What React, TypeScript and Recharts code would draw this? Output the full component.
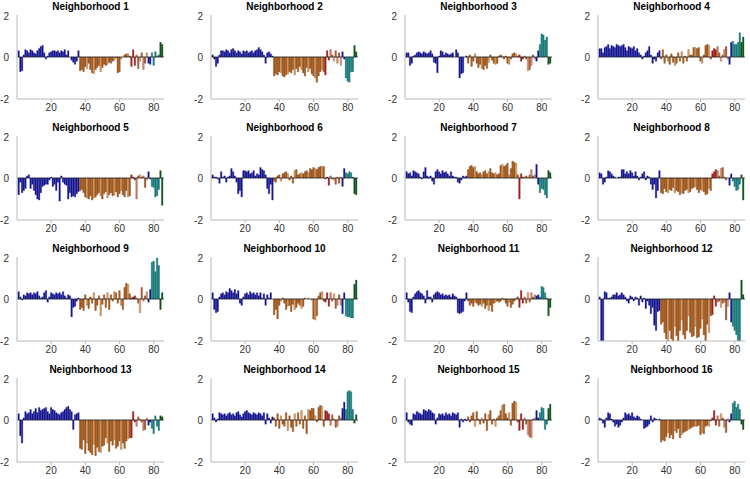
import React from "react";
import { BarChart, Bar, XAxis, YAxis, Cell, ReferenceLine } from "recharts";

// bar index 1..85 per neighborhood
// groups: 1-36 navy, 37-66 orange, 67-69 red, 70-76 mixed, 77-78 navy, 79-83 teal, 84-85 green
const n1 = [
  0.3, -0.7, -0.65, 0.1, 0.35, 0.3, 0.2, 0.35, 0.3, 0.2, 0.15, 0.3,
  0.4, 0.5, 0.55, 0.2, -0.1, 0.05, 0.2, 0.25, 0.3, 0.3, 0.25, 0.3,
  0.2, 0.3, 0.25, 0.35, 0.1, 0.3, 0.0, -0.15, -0.25, -0.35, -0.2, 0.3,
  -0.65, -0.6, -0.7, -0.45, -0.55, -0.3, -0.6, -0.75, -0.8, -0.6,
  -0.5, -0.4, -0.7, -0.5, -0.35, -0.4, -0.35, -0.25, -0.3, -0.2,
  -0.15, -0.05, -0.75, -0.7, -0.1, 0.0, 0.1, 0.15, 0.15, 0.05,
  -0.45, 0.35, -0.4, 0.1, -0.55, -0.2, 0.2, -0.6, -0.3, 0.2, -0.3, -0.35, 0.2, -0.4, 0.25, 0.05, 0.1, 0.7, 0.6,
];
const n2 = [
  0.1, -0.1, -0.45, -0.3, 0.1, 0.3, 0.3, 0.25, 0.35, 0.3, 0.2, 0.35,
  0.4, 0.3, 0.2, 0.3, 0.25, 0.15, 0.3, 0.25, 0.3, 0.2, 0.25, 0.3,
  0.2, 0.3, 0.35, 0.45, 0.35, 0.25, 0.1, -0.3, 0.2, 0.25, 0.15, 0.05,
  -0.9, -0.8, -0.85, -0.7, -0.75, -0.9, -0.95, -0.85, -0.8, -0.7,
  -0.75, -0.6, -0.85, -0.55, -0.7, -0.45, -0.6, -0.75, -0.9, -0.5,
  -0.7, -0.55, -0.8, -0.9, -1.0, -1.2, -0.9, -0.7, -0.6, -0.7,
  -0.85, 0.3, -0.15, 0.35, 0.1, -0.2, 0.3, -0.3, 0.2, -0.4, 0.25, -0.1, -1.0, -1.15, -1.2, -0.7, -0.7, 0.55, 0.25,
];
const n3 = [
  0.2, 0.2, -0.4, -0.3, 0.05, 0.1, 0.2, 0.25, 0.2, 0.15, 0.25, 0.2,
  0.15, 0.2, 0.3, 0.15, -0.25, -0.3, -0.75, 0.05, 0.3, 0.25, 0.1, 0.2,
  0.15, 0.1, 0.15, 0.2, 0.0, 0.35, 0.2, -1.0, -0.8, -0.75, 0.0, 0.05,
  -0.3, 0.1, -0.45, -0.2, 0.15, -0.3, -0.5, -0.35, -0.55, -0.6,
  -0.4, -0.55, -0.25, 0.1, -0.15, -0.3, -0.35, -0.3, 0.05, 0.1,
  0.05, -0.1, 0.05, -0.3, -0.35, -0.1, 0.15, 0.2, 0.15, 0.05,
  0.1, -0.2, -0.1, 0.05, -0.1, -0.65, -0.6, -0.4, 0.1, -0.1, -0.2, 0.3, 0.6, 1.1, 1.05, 0.8, 0.95, -0.35, -0.3,
];
const n4 = [
  0.4, 0.4, 0.2, 0.45, 0.5, 0.6, 0.4, 0.55, 0.5, 0.45, 0.6, 0.55,
  0.5, 0.55, 0.6, 0.45, 0.3, 0.5, 0.45, 0.4, 0.5, 0.3, 0.4, 0.2,
  0.1, -0.1, 0.05, 0.2, 0.3, 0.5, 0.1, -0.3, -0.1, -0.2, 0.2, 0.3,
  -0.1, 0.35, -0.3, 0.1, -0.2, -0.35, 0.15, -0.25, -0.4, -0.3,
  0.2, -0.2, 0.25, -0.3, 0.05, -0.2, 0.35, 0.1, 0.1, 0.45,
  0.45, 0.4, 0.45, -0.2, -0.3, 0.1, 0.55, 0.6, 0.55, -0.1,
  0.3, 0.4, 0.35, 0.5, 0.2, -0.2, 0.1, 0.35, 0.5, -0.1, -0.35, 0.7, 0.75, 0.6, 0.6, 0.7, 1.15, 0.7, 0.95,
];
const n5 = [
  -0.8, -0.2, -0.7, -0.6, -0.5, 0.1, 0.15, -0.5, -0.3, -0.6, -0.8, -1.0,
  -1.05, -0.7, -0.4, -0.35, -0.3, -0.3, -0.1, 0.05, -0.4, -0.3, -0.6, -0.2,
  -1.1, 0.1, -0.2, -0.3, -0.35, -1.0, -0.7, -0.9, -0.85, -0.9, -0.75, -0.65,
  -0.6, -0.55, -0.7, -0.9, -0.95, -1.0, -0.85, -1.05, -0.95, -0.9,
  -0.8, -0.7, -0.85, -1.0, -0.75, -0.65, -0.95, -0.8, -0.7, -0.85,
  -0.8, -0.65, -0.9, -0.75, -0.6, -0.8, -0.9, -0.6, -0.9, -0.85,
  0.15, 0.05, -0.1, -1.0, 0.1, 0.15, 0.05, 0.1, -0.45, -0.1, 0.3, -0.05, -0.4, -0.45, -0.9, -0.85, -0.55, 0.35, -1.3,
];
const n6 = [
  0.15, 0.05, 0.05, -0.05, -0.25, 0.3, 0.05, 0.1, -0.2, 0.05, 0.1, 0.45,
  0.3, 0.1, -0.2, -0.75, -0.6, -0.9, 0.35, 0.35, 0.3, 0.35, 0.2, 0.25,
  0.35, 0.1, 0.2, 0.15, 0.5, 0.4, 0.35, 0.15, -0.5, -0.75, -0.3, -1.05,
  -0.15, -0.2, 0.1, 0.15, -0.15, 0.2, 0.25, 0.3, 0.2, -0.1,
  0.1, -0.25, 0.35, 0.4, 0.15, 0.2, 0.25, 0.2, 0.3, 0.35,
  0.25, 0.45, 0.4, 0.5, 0.45, 0.4, 0.5, 0.55, 0.55, 0.55,
  -0.05, 0.05, -0.35, 0.1, -0.05, -0.1, -0.3, 0.05, -0.25, 0.05, -0.4, 0.45, 0.25, 0.2, 0.3, 0.25, 0.05, -0.75, -0.8,
];
const n7 = [
  0.3, 0.2, 0.25, 0.1, 0.35, 0.3, 0.25, 0.2, 0.05, -0.05, 0.3, 0.5,
  0.1, 0.05, 0.1, -0.15, -0.3, 0.3, 0.4, 0.3, 0.2, 0.35, 0.25, 0.3,
  0.2, 0.1, 0.3, 0.1, 0.05, 0.05, -0.2, -0.25, -0.1, 0.1, 0.05, 0.1,
  0.4, 0.55, 0.6, 0.5, 0.55, 0.3, 0.2, 0.25, 0.15, 0.3,
  0.35, 0.2, 0.3, 0.45, 0.25, 0.2, 0.25, 0.15, 0.2, 0.6,
  0.65, 0.55, 0.6, 0.7, 0.15, 0.45, 0.8, 0.75, 0.7, 0.15,
  -1.0, 0.2, 0.05, 0.05, 0.1, 0.05, 0.15, 0.4, 0.1, 0.15, 0.65, -0.3, -0.7, -0.5, -0.55, -0.8, -0.95, 0.35, 0.25,
];
const n8 = [
  0.25, 0.2, -0.3, -0.2, 0.05, 0.35, 0.3, 0.2, 0.1, 0.05, 0.0, 0.05,
  0.05, 0.4, 0.4, 0.2, 0.3, 0.2, 0.35, 0.25, 0.1, 0.3, 0.1, -0.1,
  0.05, 0.2, 0.3, -0.1, 0.1, 0.05, -0.3, -0.55, -0.3, -0.95, -0.6, 0.35,
  -0.7, -0.75, -0.5, -0.65, -0.7, -0.55, -0.6, -0.45, -0.7, -0.6,
  -0.65, -0.8, -0.7, -0.75, -0.6, -0.55, -0.7, -0.65, -0.5, -0.45,
  -0.4, -0.55, -0.7, -0.55, -0.6, -0.65, -0.8, -0.75, -0.5, -0.6,
  0.2, 0.3, 0.4, 0.35, 0.1, 0.45, 0.5, 0.05, -0.1, 0.0, -0.35, 0.2, -0.15, -0.4, -0.6, -0.55, -0.3, 0.15, -1.05,
];
const n9 = [
  0.35, 0.1, -0.05, 0.2, 0.15, 0.3, 0.25, 0.3, 0.2, 0.3, 0.25, 0.35,
  0.15, 0.05, 0.1, 0.3, 0.4, -0.15, 0.1, 0.3, 0.25, 0.2, 0.3, 0.25,
  0.3, 0.2, 0.35, 0.15, 0.05, 0.2, 0.15, -0.85, -0.4, -0.35, -0.1, 0.05,
  -0.5, -0.4, -0.55, 0.2, -0.3, -0.45, 0.1, -0.2, 0.3, -0.55,
  -0.3, 0.15, -0.8, -0.25, 0.2, -0.4, 0.3, -0.5, 0.2, -0.1,
  0.35, 0.3, -0.2, 0.4, -0.3, -0.5, 0.55, 0.75, 0.7, 0.25,
  0.05, 0.1, 0.15, 0.05, -0.2, -0.65, 0.55, -0.1, 0.15, 0.35, -0.15, 0.45, 1.75, 1.8, 1.3, 1.95, 1.6, -0.5, 0.3,
];
const n10 = [
  0.3, -0.5, -0.65, -0.6, 0.1, 0.25, 0.3, 0.2, 0.35, 0.3, 0.5, 0.4,
  0.3, 0.45, 0.25, 0.4, -0.2, -0.3, 0.1, 0.25, 0.3, 0.2, 0.35, 0.25,
  0.3, 0.2, 0.3, 0.15, 0.3, 0.05, 0.25, -0.3, 0.2, 0.05, 0.3, 0.0,
  -0.75, -0.5, -0.95, -0.3, -0.1, 0.05, -0.2, -0.5, -0.35, -0.3,
  -0.6, -0.25, -0.5, -0.4, -0.2, -0.3, -0.45, -0.35, 0.05, 0.0,
  0.05, 0.0, -0.05, -0.95, -1.0, -0.8, 0.15, 0.3, 0.35, -0.1,
  -0.15, 0.3, -0.35, 0.3, -0.1, 0.25, -0.45, -0.3, 0.2, -0.3, -0.7, 0.3, -0.8, -0.85, -0.85, -0.9, -0.9, 0.7, 0.9,
];
const n11 = [
  0.3, -0.15, -0.6, -0.65, 0.1, 0.25, 0.35, 0.4, 0.3, 0.25, 0.15, -0.2,
  0.4, 0.1, 0.1, -0.15, 0.2, 0.3, 0.35, 0.3, 0.2, 0.25, 0.15, 0.2,
  0.15, 0.2, 0.1, 0.25, 0.15, 0.1, -0.65, -0.7, -0.65, -0.6, -0.1, 0.3,
  -0.1, -0.3, -0.2, -0.35, -0.15, -0.2, -0.3, -0.25, -0.35, -0.2,
  -0.45, -0.3, -0.55, -0.3, -0.6, -0.2, -0.15, -0.1, -0.15, -0.1,
  0.05, -0.05, -0.2, -0.35, -0.15, -0.4, -0.25, -0.1, 0.05, 0.1,
  -0.4, 0.4, -0.2, 0.1, -0.2, 0.3, -0.15, 0.3, 0.1, 0.2, 0.15, 0.2, 0.1, 0.6, 0.55, 0.3, 0.05, -0.8, -0.4,
];
const n12 = [
  0.1, -2.0, -2.0, 0.35, 0.3, 0.05, 0.05, 0.1, 0.2, 0.2, 0.3, 0.15,
  0.2, 0.3, 0.2, 0.1, -0.1, -0.2, 0.15, 0.1, -0.1, 0.1, 0.05, -0.3,
  0.15, -0.15, 0.05, -0.45, -0.1, -0.3, -0.7, -0.4, -1.25, -1.5, -0.6, -0.55,
  -1.2, -1.1, -1.6, -1.9, -2.0, -1.5, -1.9, -2.0, -1.3, -1.75,
  -2.0, -1.5, -1.0, -1.7, -1.9, -1.5, -0.8, -1.6, -1.8, -1.75,
  -1.3, -1.85, -1.8, -1.4, -0.95, -1.7, -2.0, -1.2, -1.6, -0.8,
  -0.75, 0.15, -0.35, -0.15, -0.1, -0.4, -0.2, -0.15, -1.0, -0.35, 0.3, -1.1, -1.3, -1.5, -1.7, -2.0, -2.0, 0.9, 0.2,
];
const n13 = [
  0.3, -0.75, -1.1, 0.1, 0.4, 0.3, 0.35, 0.5, 0.3, 0.4, 0.55, 0.35,
  0.6, 0.45, 0.5, 0.55, 0.6, 0.4, 0.3, 0.6, 0.5, 0.45, 0.35, 0.3,
  0.25, 0.35, 0.4, 0.5, 0.6, 0.65, 0.5, 0.4, -0.45, 0.25, 0.3, 0.35,
  -1.35, -1.4, -0.95, -1.6, -1.1, -1.45, -1.55, -1.65, -1.15, -1.7,
  -1.3, -1.5, -1.55, -1.25, -1.2, -0.85, -1.1, -1.5, -1.0, -1.2,
  -0.95, -1.35, -1.25, -1.0, -1.4, -1.1, -1.35, -1.0, -0.9, -0.85,
  -0.85, 0.4, -0.1, -0.3, 0.15, 0.05, -0.1, -0.5, -0.45, 0.1, -0.25, -0.1, -0.4, -0.65, 0.2, -0.3, -0.5, 0.2, 0.15,
];
const n14 = [
  0.3, 0.1, -0.1, 0.05, 0.35, 0.3, 0.25, 0.3, 0.2, 0.3, 0.35, 0.25,
  0.3, 0.2, 0.35, 0.4, 0.25, 0.15, 0.3, 0.4, 0.45, 0.35, 0.3, 0.25,
  0.35, 0.3, 0.25, 0.35, 0.3, 0.2, 0.35, -0.2, 0.3, 0.1, -0.15, 0.15,
  0.1, -0.3, 0.3, -0.4, 0.2, -0.2, -0.3, 0.35, -0.5, 0.2,
  -0.35, -0.55, 0.3, -0.3, 0.35, -0.2, 0.45, -0.4, 0.2, -0.65,
  0.5, 0.45, 0.55, 0.55, 0.2, -0.1, 0.6, 0.7, 0.65, -0.3,
  0.45, 0.4, 0.3, -0.25, 0.25, 0.05, -0.35, -0.3, 0.2, 0.1, 0.55, 0.85, 0.5, 1.35, 1.4, 1.35, 0.5, -0.15, 0.25,
];
const n15 = [
  0.35, -0.1, -0.2, -0.25, 0.3, 0.25, 0.4, 0.35, 0.3, 0.25, 0.5, 0.45,
  0.4, 0.5, 0.45, 0.35, 0.3, -0.2, 0.1, 0.3, 0.25, 0.3, 0.2, 0.35,
  0.25, 0.3, 0.2, 0.35, 0.3, 0.25, 0.35, -0.35, 0.05, -0.1, 0.05, -0.05,
  0.15, -0.1, 0.2, 0.35, -0.3, 0.4, 0.05, -0.2, 0.1, -0.15,
  0.3, -0.5, 0.25, 0.45, -0.2, 0.05, -0.3, 0.1, 0.2, 0.45,
  0.7, 0.75, 0.3, 0.1, 0.35, -0.25, 0.8, 0.9, 0.85, -0.1,
  -0.5, 0.3, -0.45, 0.1, -0.2, -0.7, -0.8, -0.85, 0.05, 0.1, 0.45, 0.1, 0.35, 0.6, 0.55, -0.45, -0.2, 0.55, 0.75,
];
const n16 = [
  0.1, 0.05, -0.15, -0.35, 0.1, 0.35, 0.3, 0.05, -0.1, -0.3, -0.2, -0.35,
  -0.25, -0.1, 0.1, 0.35, 0.25, 0.3, 0.2, 0.35, 0.15, 0.1, 0.2, 0.15,
  0.05, 0.0, -0.4, -0.35, -0.3, -0.2, 0.2, -0.1, 0.1, 0.05, 0.0, 0.05,
  -1.05, -0.95, -1.0, -0.8, -0.6, -0.85, -0.7, -0.9, -0.5, -0.6,
  -0.4, -0.85, -0.7, -0.6, -0.55, -0.5, -0.45, -0.4, -0.35, -0.3,
  -0.3, -0.3, -0.25, -0.7, -0.6, -0.65, -0.3, -0.25, -0.3, -0.05,
  0.1, 0.45, -0.25, 0.2, -0.3, 0.3, 0.1, -0.35, -0.6, 0.05, -0.1, 0.3, 0.8, 0.9, 0.6, 0.75, 0.5, -0.2, -0.45,
];

const panels = [n1, n2, n3, n4, n5, n6, n7, n8, n9, n10, n11, n12, n13, n14, n15, n16];
const titles = panels.map((_, i) => `Neighborhood ${i + 1}`);
const xTicks = [20, 40, 60, 80];
const yTicks = [-2, 0, 2];

// lighter bars inside the orange block
const lightOrange = [41, 45, 49, 53, 57, 61, 65];
const mixed = [
  ["#d7826a", "#6a2e1c"],
  ["#b86a3c", "#55280c"],
  ["#e8a47c", "#6f3a20"],
  ["#c0623c", "#58240e"],
  ["#dd9070", "#6a321c"],
  ["#a85a30", "#4a220a"],
  ["#e0a080", "#6a3820"],
];

const colorFor = (i: number) => {
  if (i <= 36 || i === 77 || i === 78) return ["#15158a", "#1c1ca4"];
  if (i <= 66)
    return lightOrange.includes(i) ? ["#e6a366", "#6b3a10"] : ["#b8621a", "#4d2608"];
  if (i <= 69) return ["#b41e1e", "#5c0c0c"];
  if (i <= 76) return mixed[i - 70];
  if (i <= 83) return ["#188787", "#0c4d4d"];
  return ["#0d5c1c", "#05300c"];
};

const PLOT_W = 147;
const PLOT_H = 84;
const colLeft = [17, 211, 405, 598];
const rowTop = [15, 136, 257, 378];

const Panel = ({ values, title, left, top }: any) => {
  const data = values.map((v: number, i: number) => ({ x: i + 1, v }));
  return (
    <>
      <div
        style={{
          position: "absolute",
          left,
          top: top - 15,
          width: PLOT_W,
          height: 14,
          lineHeight: "14px",
          textAlign: "center",
          fontWeight: "bold",
          fontSize: 10,
          color: "#000",
        }}
      >
        {title}
      </div>
      <div style={{ position: "absolute", left: left - 30, top: top - 4 }}>
        <BarChart
          width={30 + PLOT_W + 4}
          height={4 + PLOT_H + 22}
          data={data}
          margin={{ top: 4, right: 4, bottom: 0, left: 0 }}
        >
          <XAxis
            type="number"
            dataKey="x"
            domain={[0, 86]}
            ticks={xTicks}
            allowDataOverflow
            height={22}
            tickSize={3}
            stroke="#b8b8b8"
            tick={{ fontSize: 10, fill: "#333" }}
          />
          <YAxis
            type="number"
            domain={[-2, 2]}
            ticks={yTicks}
            allowDataOverflow
            width={30}
            tickLine={false}
            tickMargin={2}
            stroke="#b8b8b8"
            tick={{ fontSize: 10, fill: "#333" }}
          />
          <Bar dataKey="v" barSize={1.85} isAnimationActive={false}>
            {data.map((d: any) => {
              const [fill, edge] = colorFor(d.x);
              return <Cell key={d.x} fill={fill} stroke={edge} strokeWidth={0.3} />;
            })}
          </Bar>
          <ReferenceLine y={0} stroke="#222" strokeWidth={0.7} />
        </BarChart>
      </div>
    </>
  );
};

export default function App() {
  return (
    <div
      style={{
        position: "absolute",
        left: 0,
        top: 0,
        width: 750,
        height: 479,
        background: "#fff",
        fontFamily: "'Liberation Sans', Arial, sans-serif",
      }}
    >
      {panels.map((values, i) => (
        <Panel
          key={i}
          values={values}
          title={titles[i]}
          left={colLeft[i % 4]}
          top={rowTop[Math.floor(i / 4)]}
        />
      ))}
    </div>
  );
}
